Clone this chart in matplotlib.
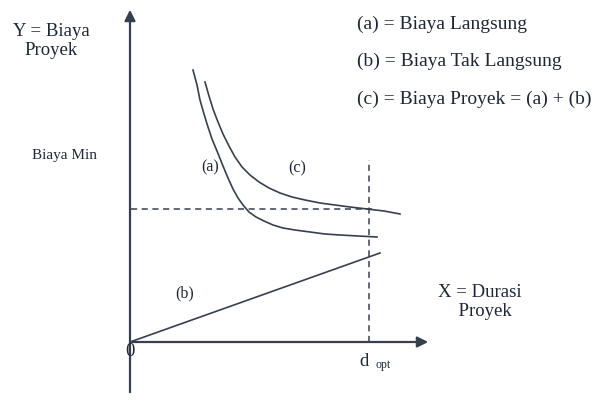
import matplotlib.pyplot as plt

# curve (a) - biaya langsung (direct cost)
a_x = [6.3, 6.7, 7.0, 7.4, 7.8, 8.2, 8.7, 9.3, 9.8, 10.3, 10.8, 11.3,
       11.9, 12.6, 13.4, 14.3, 15.3, 16.5, 18.0, 19.5, 21.0, 22.8, 24.7]
a_y = [27.2, 25.7, 24.2, 22.8, 21.5, 20.3, 19.1, 17.6, 16.4, 15.3, 14.4, 13.7,
       13.0, 12.5, 12.1, 11.7, 11.4, 11.2, 11.0, 10.8, 10.7, 10.6, 10.5]

# curve (c) - biaya proyek (total)
c_x = [7.5, 7.9, 8.3, 8.8, 9.3, 9.9, 10.5, 11.2, 12.0, 12.9,
       13.9, 15.0, 16.2, 17.5, 19.0, 20.5, 22.0, 23.7, 25.4, 27.0]
c_y = [26.0, 24.6, 23.3, 22.0, 20.8, 19.6, 18.5, 17.5, 16.7, 16.0,
       15.4, 14.9, 14.5, 14.2, 13.9, 13.7, 13.5, 13.3, 13.1, 12.8]

# line (b) - biaya tak langsung (indirect cost)
b_x = [0.0, 25.0]
b_y = [0.0, 8.9]

d_opt = 23.9
biaya_min = 13.3

legend_lines = ["(a) = Biaya Langsung",
                "(b) = Biaya Tak Langsung",
                "(c) = Biaya Proyek = (a) + (b)"]

line_col = '#384050'
text_col = '#1f2636'
plt.rcParams['font.family'] = ['Liberation Serif', 'DejaVu Serif']

fig = plt.figure(figsize=(5.97, 4.03), dpi=100)
ax = fig.add_axes([0, 0, 1, 1])
ax.set_xlim(-13.0, 46.7)
ax.set_ylim(-6.1, 34.2)
ax.axis('off')

# axes with arrow heads
arrow = dict(arrowstyle='-|>', color=line_col, lw=1.6, mutation_scale=16)
ax.annotate('', xy=(0, 33.5), xytext=(0, -5.3), arrowprops=arrow)
ax.annotate('', xy=(30.1, 0), xytext=(-0.1, 0), arrowprops=arrow)

# curves
ax.plot(a_x, a_y, color=line_col, lw=1.2, solid_joinstyle='round')
ax.plot(c_x, c_y, color=line_col, lw=1.2, solid_joinstyle='round')
ax.plot(b_x, b_y, color=line_col, lw=1.2)

# dashed guides
ax.plot([0.1, 24.2], [biaya_min, biaya_min], color=line_col, lw=1.1, ls=(0, (4, 3)))
ax.plot([d_opt, d_opt], [0, 18.2], color=line_col, lw=1.1, ls=(0, (4, 3)))

fs = 14
ax.text(-7.9, 30.1, "Y = Biaya\nProyek", ha='center', va='center', fontsize=13.5,
        color=text_col, linespacing=1.15)
ax.text(-9.8, 18.7, "Biaya Min", ha='left', va='center', fontsize=11, color=text_col)
ax.text(35.0, 4.0, "X = Durasi\n  Proyek", ha='center', va='center', fontsize=13.5,
        color=text_col, linespacing=1.15)
ax.text(0.0, -1.0, "0", ha='center', va='center', fontsize=13.5, color=text_col)
ax.text(23.4, -2.0, "d", ha='center', va='center', fontsize=13.5, color=text_col)
ax.text(24.5, -2.3, "opt", ha='left', va='center', fontsize=8.5, color=text_col)

ax.text(8.0, 17.5, "(a)", ha='center', va='center', fontsize=11.5, color=text_col)
ax.text(16.7, 17.4, "(c)", ha='center', va='center', fontsize=11.5, color=text_col)
ax.text(5.5, 4.9, "(b)", ha='center', va='center', fontsize=11.5, color=text_col)

for i, t in enumerate(legend_lines):
    ax.text(22.7, 31.8 - i * 3.75, t, ha='left', va='center', fontsize=fs, color=text_col)

fig.savefig('out.png', dpi=100)
